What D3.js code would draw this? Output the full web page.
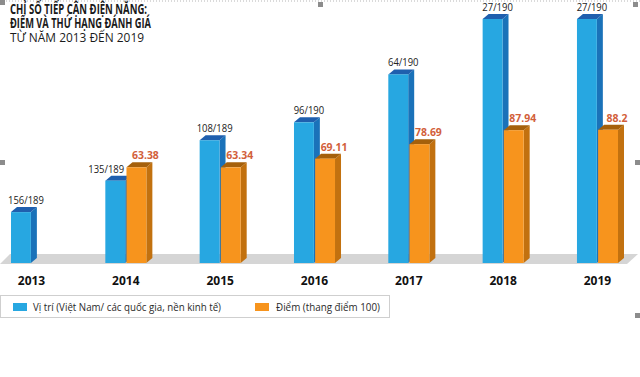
<!DOCTYPE html>
<html>
<head>
<meta charset="utf-8">
<script src="https://cdn.jsdelivr.net/npm/d3@7"></script>
<style>
  body { margin: 0; background: #fff; }
  svg { display: block; font-family: "Open Sans", sans-serif; }
</style>
</head>
<body>
<div id="chart"></div>
<script>
const years = ["2013", "2014", "2015", "2016", "2017", "2018", "2019"];
const rank = [156, 135, 108, 96, 64, 27, 27];
const totalCountries = [189, 189, 189, 190, 190, 190, 190];
const score = [null, 63.38, 63.34, 69.11, 78.69, 87.94, 88.2];
const titleLines = ["CHỈ SỐ TIẾP CẬN ĐIỆN NĂNG:", "ĐIỂM VÀ THỨ HẠNG ĐÁNH GIÁ", "TỪ NĂM 2013 ĐẾN 2019"];
const legendLabels = ["Vị trí (Việt Nam/ các quốc gia, nền kinh tế)", "Điểm (thang điểm 100)"];

const W = 640, H = 377;
const base = 263, dx = 6, dy = -5;

const colors = {
  rank:  { front: "#27a7e1", side: "#1a72b9", top: "#1f5fae" },
  score: { front: "#f7941d", side: "#c2710f", top: "#a5600b" }
};

const svg = d3.select("#chart").append("svg")
    .attr("width", W)
    .attr("height", H);

// squeeze text to a narrower face, the original uses a condensed font
function squeeze(sel, k) {
  sel.each(function () {
    let n = this.getComputedTextLength();
    d3.select(this).attr("textLength", n * k).attr("lengthAdjust", "spacingAndGlyphs");
  });
}

// editor frame leftovers: dotted top edge and grey handles
svg.append("line")
    .attr("x1", 0).attr("x2", W).attr("y1", 1).attr("y2", 1)
    .attr("stroke", "#b5b5b5").attr("stroke-dasharray", "1,2");
[[0, 0], [318, 2], [633, 2], [0, 160], [635, 160], [0, 313], [320, 313], [635, 313]].forEach(function (p) {
  svg.append("rect").attr("x", p[0]).attr("y", p[1]).attr("width", 5).attr("height", 5).attr("fill", "#8c8c8c");
});

// title
const title = svg.append("g").attr("fill", "#1a1a1a");
title.append("text").attr("x", 10).attr("y", 13.5)
    .style("font-size", "13.5px").style("font-weight", 700).text(titleLines[0])
    .attr("textLength", 137).attr("lengthAdjust", "spacingAndGlyphs");
title.append("text").attr("x", 10).attr("y", 28)
    .style("font-size", "13.5px").style("font-weight", 700).text(titleLines[1])
    .attr("textLength", 141).attr("lengthAdjust", "spacingAndGlyphs");
title.append("text").attr("x", 10).attr("y", 42)
    .style("font-size", "13.5px").text(titleLines[2])
    .attr("textLength", 134).attr("lengthAdjust", "spacingAndGlyphs");

// scales
const x = d3.scaleBand()
    .domain(years)
    .range([11, 618])
    .paddingInner(0.565)
    .paddingOuter(0);

const xs = d3.scaleBand()
    .domain(["rank", "score"])
    .range([0, x.bandwidth()])
    .paddingInner(0.06);

// better rank = taller bar
const yRank = d3.scaleLinear().domain([190, 27]).range([base, 19]);
const yScore = d3.scaleLinear().domain([0, 100]).range([base, 112]);

// floor
svg.append("polygon")
    .attr("points", [[0, base + 1], [627, base + 1], [638, base - 9], [10, base - 9]].join(" "))
    .attr("fill", "#d5d5d5");

const rows = years.map(function (y, i) {
  return { year: y, rank: rank[i], total: totalCountries[i], score: score[i] };
});

const bars = [];
rows.forEach(function (d) {
  let r = { key: "rank", year: d.year, top: yRank(d.rank), label: d.rank + "/" + d.total };
  bars.push(r);
  if (d.score != null) {
    let s = { key: "score", year: d.year, top: yScore(d.score), label: String(d.score) };
    // rank label would run into a taller score bar: pull it to the left
    r.blocked = s.top < r.top;
    bars.push(s);
  }
});

const bw = xs.bandwidth();
const g = svg.append("g").selectAll("g")
    .data(bars)
    .enter()
    .append("g");

g.append("polygon")
    .attr("points", function (d) {
      let x0 = x(d.year) + xs(d.key) + bw;
      return [[x0, d.top], [x0 + dx, d.top + dy], [x0 + dx, base + dy], [x0, base]].join(" ");
    })
    .attr("fill", function (d) { return colors[d.key].side; });

g.append("polygon")
    .attr("points", function (d) {
      let x0 = x(d.year) + xs(d.key);
      return [[x0, d.top], [x0 + dx, d.top + dy], [x0 + bw + dx, d.top + dy], [x0 + bw, d.top]].join(" ");
    })
    .attr("fill", function (d) { return colors[d.key].top; });

g.append("rect")
    .attr("x", function (d) { return x(d.year) + xs(d.key); })
    .attr("y", function (d) { return d.top; })
    .attr("width", bw)
    .attr("height", function (d) { return base - d.top; })
    .attr("fill", function (d) { return colors[d.key].front; });

// value labels, on top of all bars
const labels = svg.append("g").selectAll("text")
    .data(bars)
    .enter()
    .append("text")
    .attr("x", function (d) {
      let x0 = x(d.year) + xs(d.key);
      if (d.blocked) return x0 + bw - 1;
      return x0 + bw / 2 + (d.key == "rank" ? 5 : 9);
    })
    .attr("y", function (d) { return d.top - 8; })
    .attr("text-anchor", function (d) { return d.blocked ? "end" : "middle"; })
    .style("font-size", "11px")
    .style("font-weight", function (d) { return d.key == "rank" ? 400 : 700; })
    .attr("fill", function (d) { return d.key == "rank" ? "#222" : "#d2603a"; })
    .text(function (d) { return d.label; });
squeeze(labels.filter(function (d) { return d.key == "rank"; }), 0.86);
squeeze(labels.filter(function (d) { return d.key == "score"; }), 0.95);

// year labels
svg.append("g").selectAll("text")
    .data(years)
    .enter()
    .append("text")
    .attr("x", function (d) { return x(d) + x.bandwidth() / 2; })
    .attr("y", 285)
    .attr("text-anchor", "middle")
    .style("font-size", "12px")
    .style("font-weight", 700)
    .attr("fill", "#111")
    .text(function (d) { return d; });

// legend
const legend = svg.append("g");
legend.append("rect")
    .attr("x", 0.5).attr("y", 295.5).attr("width", 389).attr("height", 22)
    .attr("fill", "#fff").attr("stroke", "#cfcfcf");
const items = [
  { key: "rank", x: 13, tx: 33, w: 188 },
  { key: "score", x: 255, tx: 276, w: 104 }
];
items.forEach(function (it, i) {
  legend.append("rect").attr("x", it.x).attr("y", 303).attr("width", 14).attr("height", 8)
      .attr("fill", colors[it.key].front);
  legend.append("text").attr("x", it.tx).attr("y", 311)
      .style("font-size", "11.5px").attr("fill", "#2a2a2a")
      .text(legendLabels[i])
      .attr("textLength", it.w).attr("lengthAdjust", "spacingAndGlyphs");
});
</script>
</body>
</html>
